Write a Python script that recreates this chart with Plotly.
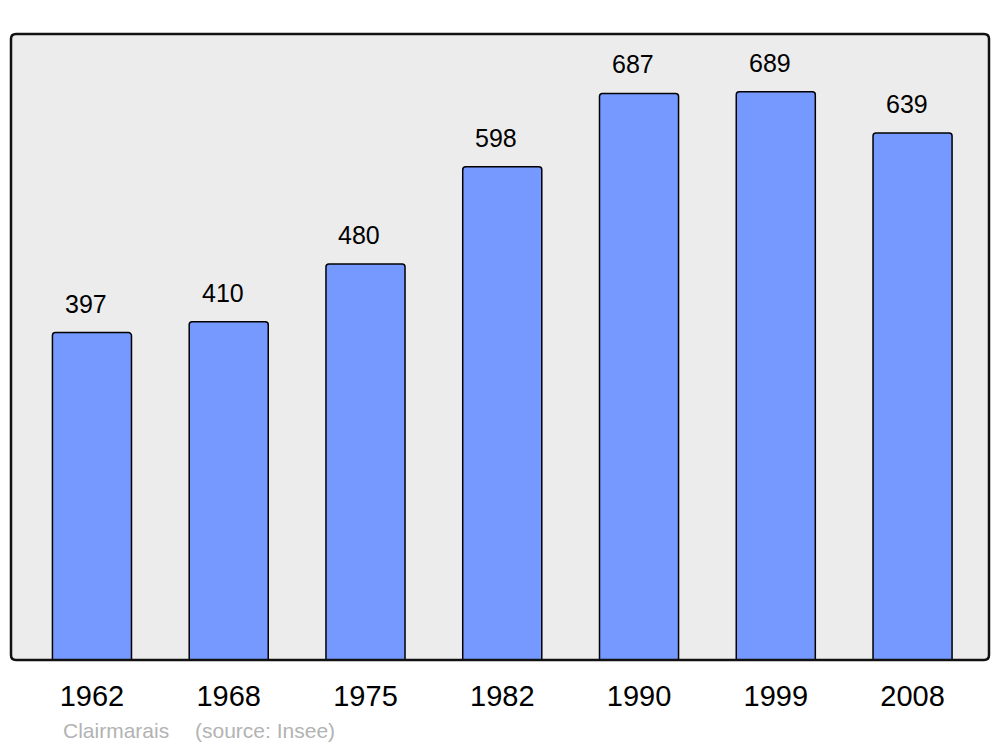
import plotly.graph_objects as go

years = ["1962", "1968", "1975", "1982", "1990", "1999", "2008"]
population = [397, 410, 480, 598, 687, 689, 639]
commune = "Clairmarais"
source = "(source: Insee)"

# page body has an 8px margin; compensate so the plot lands where the reference has it
W, H = 992, 739
L, R, T, B = 3, 11, 26, 87
pw, ph = W - L - R, H - T - B

fig = go.Figure()
fig.add_trace(go.Bar(
    x=list(range(len(years))), y=population,
    width=0.578,
    marker=dict(color="#7599ff", line=dict(color="#000000", width=1.5), cornerradius=3),
    hoverinfo="skip",
))

for i, v in enumerate(population):
    fig.add_annotation(x=i, y=v, text=str(v), showarrow=False, xref="x", yref="y",
                       yanchor="bottom", yshift=13, xshift=-6,
                       font=dict(family="Liberation Sans, Arial", size=25, color="#000"))

foot_y = (660 - 730) / ph
fig.add_annotation(x=(61 - 11) / pw, y=foot_y, xref="paper", yref="paper",
                   text=commune, showarrow=False, xanchor="left", yanchor="middle",
                   font=dict(family="Liberation Sans, Arial", size=21, color="#b3b3b3"))
fig.add_annotation(x=(193 - 11) / pw, y=foot_y, xref="paper", yref="paper",
                   text=source, showarrow=False, xanchor="left", yanchor="middle",
                   font=dict(family="Liberation Sans, Arial", size=21, color="#b3b3b3"))

# rounded frame
r = 5
rx, ry = r / pw, r / ph
path = (f"M {rx},1 L {1-rx},1 Q 1,1 1,{1-ry} L 1,{ry} Q 1,0 {1-rx},0 "
        f"L {rx},0 Q 0,0 0,{ry} L 0,{1-ry} Q 0,1 {rx},1 Z")
fig.add_shape(type="path", path=path, xref="paper", yref="paper",
              line=dict(color="#111111", width=2.5), layer="above")

fig.update_layout(
    width=W, height=H,
    margin=dict(l=L, r=R, t=T, b=B),
    paper_bgcolor="#ffffff", plot_bgcolor="#ececec",
    showlegend=False,
    xaxis=dict(range=[-0.592, 6.559], tickmode="array", tickvals=list(range(len(years))),
               ticktext=years, showgrid=False, zeroline=False, showline=False, ticks="",
               ticklabelstandoff=16,
               tickfont=dict(family="Liberation Sans, Arial", size=29, color="#000")),
    yaxis=dict(range=[0, 759], showgrid=False, zeroline=False, showticklabels=False,
               showline=False, ticks=""),
)

fig.write_html("out.html")
